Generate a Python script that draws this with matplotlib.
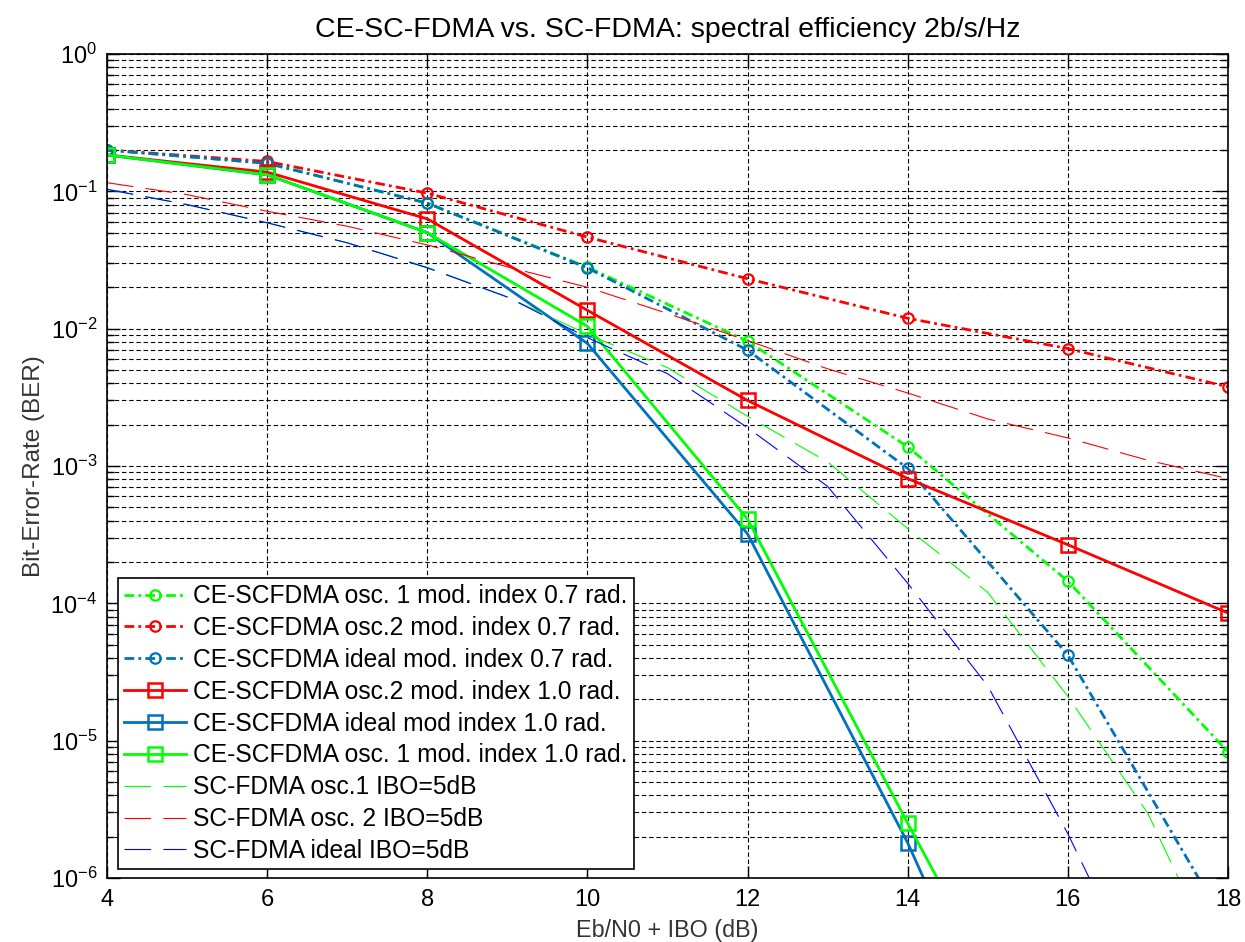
import numpy as np
import matplotlib
matplotlib.use("Agg")
import matplotlib.pyplot as plt
from matplotlib.ticker import LogLocator, FixedLocator, NullFormatter

# ---------------- data ----------------
x_ce = [4, 6, 8, 10, 12, 14, 16, 18]
ber_osc1_07 = [0.2, 0.16, 0.082, 0.028, 0.0081, 0.00138, 1.45e-4, 8.3e-6]
ber_osc2_07 = [0.2, 0.165, 0.097, 0.0464, 0.0231, 0.0119, 0.00716, 0.00377]
ber_ideal_07 = [0.2, 0.16, 0.082, 0.0277, 0.00697, 0.00096, 4.2e-5, 4.3e-7]

x_ce10_osc2 = [4, 6, 8, 10, 12, 14, 16, 18]
ber_osc2_10 = [0.184, 0.138, 0.063, 0.0136, 0.0030, 8.1e-4, 2.67e-4, 8.5e-5]
x_ce10 = [4, 6, 8, 10, 12, 14, 16]
ber_ideal_10 = [0.184, 0.132, 0.050, 0.0078, 3.2e-4, 1.8e-6, 4.6e-9]
ber_osc1_10 = [0.184, 0.132, 0.050, 0.0104, 4.1e-4, 2.5e-6, 1.7e-8]

x_sc = [4, 5, 6, 7, 8, 9, 10, 11, 12, 13, 14, 15, 16, 17, 18]
ber_sc_osc1 = [0.1035, 0.080, 0.059, 0.0422, 0.0280, 0.0170, 0.0091, 0.0052,
               0.0023, 0.00107, 3.5e-4, 1.2e-4, 2.1e-5, 2.95e-6, 1.7e-7]
ber_sc_osc2 = [0.1156, 0.0946, 0.0716, 0.0557, 0.0407, 0.0282, 0.0200, 0.0129,
               0.0082, 0.0051, 0.0034, 0.0022, 0.0016, 0.0011, 0.00081]
x_sc_ideal = [4, 5, 6, 7, 8, 9, 10, 11, 12, 13, 14, 15, 16, 17]
ber_sc_ideal = [0.1035, 0.080, 0.059, 0.0422, 0.0277, 0.0170, 0.0086, 0.0047,
                0.0019, 7.1e-4, 1.4e-4, 2.5e-5, 2.1e-6, 1.3e-7]

labels = ["CE-SCFDMA osc. 1 mod. index 0.7 rad.",
          "CE-SCFDMA osc.2 mod. index 0.7 rad.",
          "CE-SCFDMA ideal mod. index 0.7 rad.",
          "CE-SCFDMA osc.2 mod. index 1.0 rad.",
          "CE-SCFDMA ideal mod index 1.0 rad.",
          "CE-SCFDMA osc. 1 mod. index 1.0 rad.",
          "SC-FDMA osc.1 IBO=5dB",
          "SC-FDMA osc. 2 IBO=5dB",
          "SC-FDMA ideal IBO=5dB"]

title = "CE-SC-FDMA vs. SC-FDMA: spectral efficiency 2b/s/Hz"
xlabel = "Eb/N0 + IBO (dB)"
ylabel = "Bit-Error-Rate (BER)"

# ---------------- style ----------------
fam = ["Liberation Sans", "DejaVu Sans"]
plt.rcParams['font.family'] = fam
plt.rcParams['mathtext.fontset'] = 'custom'
plt.rcParams['mathtext.rm'] = fam[0]
plt.rcParams['mathtext.it'] = fam[0]
plt.rcParams['mathtext.default'] = 'regular'

GREEN = (0, 1, 0)
RED = (1, 0, 0)
MBLUE = (0, 0.447, 0.741)
BLUE = (0, 0, 1)

fig = plt.figure(figsize=(12.45, 9.42), dpi=100)
ax = fig.add_axes([107/1245, 64/942, 1121/1245, 824/942])

dd = (3.5, 1.5, 1.0, 1.5)
ax.plot(x_ce, ber_osc1_07, color=GREEN, lw=2, dashes=dd, marker='o', ms=7.5,
        mfc='none', mew=1.6, label=labels[0])
ax.plot(x_ce, ber_osc2_07, color=RED, lw=2, dashes=dd, marker='o', ms=7.5,
        mfc='none', mew=1.6, label=labels[1])
ax.plot(x_ce, ber_ideal_07, color=MBLUE, lw=2, dashes=dd, marker='o', ms=7.5,
        mfc='none', mew=1.6, label=labels[2])
ax.plot(x_ce10_osc2, ber_osc2_10, color=RED, lw=2, ls='-', marker='s', ms=9.5,
        mfc='none', mew=1.8, label=labels[3])
ax.plot(x_ce10, ber_ideal_10, color=MBLUE, lw=2, ls='-', marker='s', ms=9.5,
        mfc='none', mew=1.8, label=labels[4])
ax.plot(x_ce10, ber_osc1_10, color=GREEN, lw=2, ls='-', marker='s', ms=9.5,
        mfc='none', mew=1.8, label=labels[5])
dsh = (24, 11)
ax.plot(x_sc, ber_sc_osc1, color=GREEN, lw=0.8, dashes=dsh, label=labels[6])
ax.plot(x_sc, ber_sc_osc2, color=RED, lw=0.8, dashes=dsh, label=labels[7])
ax.plot(x_sc_ideal, ber_sc_ideal, color=BLUE, lw=0.8, dashes=dsh, label=labels[8])

ax.set_yscale('log')
ax.set_xlim(4, 18)
ax.set_ylim(1e-6, 1)
ax.xaxis.set_major_locator(FixedLocator(np.arange(4, 19, 2)))
ax.yaxis.set_major_locator(LogLocator(base=10, numticks=10))
ax.yaxis.set_minor_locator(LogLocator(base=10, subs=np.arange(2, 10), numticks=100))
ax.yaxis.set_minor_formatter(NullFormatter())

ax.grid(True, which='major', axis='both', color='black', lw=0.8, ls=(0, (4, 2.5)))
ax.grid(True, which='minor', axis='y', color='black', lw=0.8, ls=(0, (4, 2.5)))

ax.tick_params(axis='both', which='both', direction='in', top=True, right=True,
               labelsize=17, colors='black')
ax.tick_params(which='major', length=9, width=1)
ax.tick_params(which='minor', length=5, width=1)
ax.tick_params(axis='x', pad=8)
ax.tick_params(axis='y', pad=7)
for s in ax.spines.values():
    s.set_linewidth(1.2)

ax.set_title(title, fontsize=20.5, pad=12)
ax.set_xlabel(xlabel, fontsize=16.8, color='#333333', labelpad=6)
ax.set_ylabel(ylabel, fontsize=17.5, color='#333333', labelpad=4)

leg = ax.legend(loc='upper left', bbox_to_anchor=(11/1121, 300/824),
                borderaxespad=0, fontsize=17.7, frameon=True, fancybox=False,
                edgecolor='black', framealpha=1, handlelength=2.5,
                handletextpad=0.3, labelspacing=0.32, borderpad=0.25)
leg.get_frame().set_linewidth(1.2)

fig.savefig("out.png", dpi=100)
